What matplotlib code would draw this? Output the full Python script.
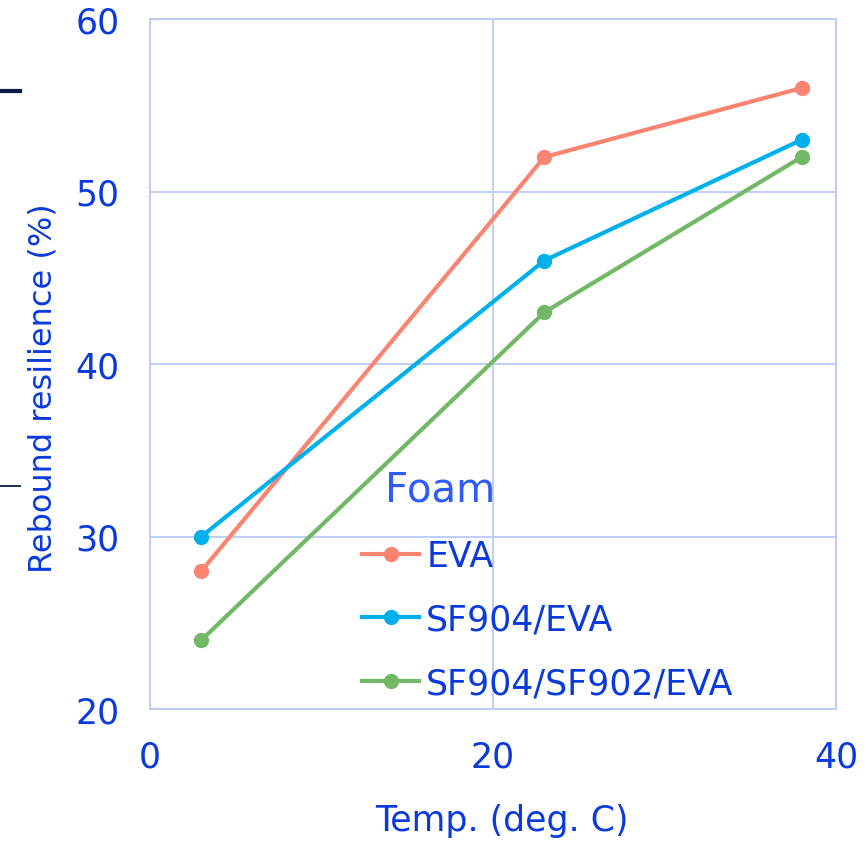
import matplotlib
matplotlib.use('Agg')
import matplotlib.pyplot as plt
from matplotlib.lines import Line2D
from matplotlib.transforms import Affine2D

plt.rcParams['font.family'] = ['DejaVu Sans']

temp = [3, 23, 38]
eva = [28, 52, 56]
sf904_eva = [30, 46, 53]
sf904_sf902_eva = [24, 43, 52]
series_names = ['EVA', 'SF904/EVA', 'SF904/SF902/EVA']
colors = ['#fa8472', '#00b0ec', '#72b866']

txt = '#0a3adc'
grid_c = '#b9c9fb'

fig = plt.figure(figsize=(8.66, 8.45), dpi=100)
ax = fig.add_axes([150/866, 1-710/845, 686/866, 690/845])

for ys, name, c in zip([eva, sf904_eva, sf904_sf902_eva], series_names, colors):
    ax.plot(temp, ys, color=c, lw=3, marker='o', ms=10, label=name)

ax.set_xlim(0, 40)
ax.set_ylim(20, 60)
ax.set_xticks([0, 20, 40])
ax.set_yticks([20, 30, 40, 50, 60])
ax.grid(True, color=grid_c, lw=1.3)
ax.set_axisbelow(True)
for s in ax.spines.values():
    s.set_color(grid_c)
    s.set_linewidth(1.3)
ax.tick_params(length=0, labelsize=25, labelcolor=txt, pad=22)
ax.set_xlabel('Temp. (deg. C)', fontsize=25, color=txt)
ax.set_ylabel('Rebound resilience (%)', fontsize=23, color=txt)
ax.xaxis.set_label_coords(0.513, -0.136)
ax.yaxis.set_label_coords(-0.134, 0.467)

leg = ax.legend(title='Foam', loc='upper left', bbox_to_anchor=(0.309, 0.347),
                frameon=False, fontsize=25, title_fontsize=29,
                handlelength=1.65, handletextpad=0.2, labelspacing=0.85,
                borderaxespad=0, borderpad=0)
leg._legend_box.align = 'left'
title = leg.get_title()
title.set_color('#2d5bff')
title.set_transform(title.get_transform() + Affine2D().translate(23, 0))
for t in leg.get_texts():
    t.set_color(txt)

# stray marks at the left edge
fig.add_artist(Line2D([0, 20/866], [1-92/845, 1-92/845], color='#0b1a40', lw=3))
fig.add_artist(Line2D([0, 20/866], [1-487/845, 1-487/845], color='#0b1a40', lw=1.3))

fig.savefig('out.png', dpi=100)
